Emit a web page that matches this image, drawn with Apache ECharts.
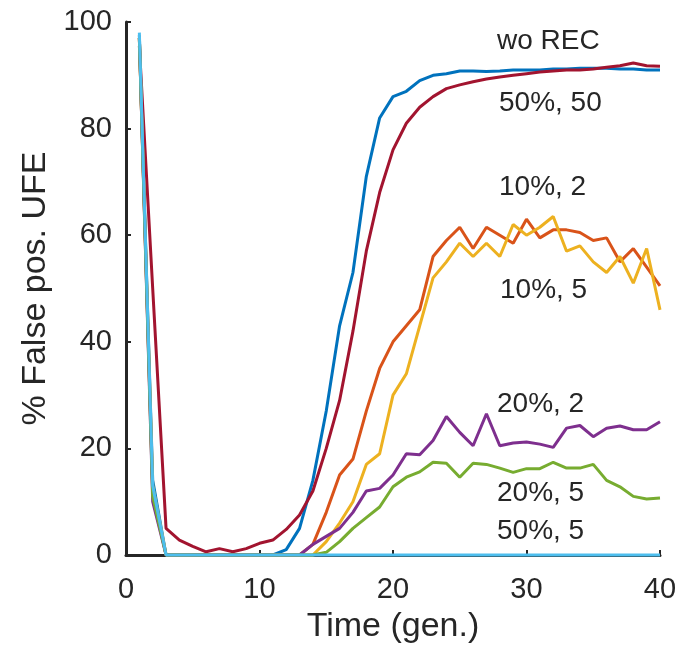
<!DOCTYPE html>
<html>
<head>
<meta charset="utf-8">
<script src="https://cdn.jsdelivr.net/npm/echarts@6/dist/echarts.min.js"></script>
<style>
html,body{margin:0;padding:0;background:#fff;}
#chart{width:681px;height:656px;}
</style>
</head>
<body>
<div id="chart"></div>
<script>
// Generations 1..40
const generations = [1,2,3,4,5,6,7,8,9,10,11,12,13,14,15,16,17,18,19,20,21,22,23,24,25,26,27,28,29,30,31,32,33,34,35,36,37,38,39,40];

const woREC = [97.5,14,0,0,0,0,0,0,0,0,0,1,5,14,27,43,53,71,82,86,87,89,90,90.3,90.8,90.8,90.7,90.8,91,91,91,91.2,91.2,91.3,91.3,91.3,91.2,91.2,91,91];
const rec50_50 = [95.5,50,5,2.8,1.6,0.6,1.2,0.6,1.2,2.2,2.8,4.8,7.5,12,20,29,42,57,68,76,81,84,86,87.5,88.2,88.8,89.3,89.7,90,90.3,90.6,90.8,91,91,91.2,91.5,91.8,92.3,91.8,91.7];
const rec10_2 = [97,12,0,0,0,0,0,0,0,0,0,0,0,2,8,15,18,27,35,40,43,46,56,59,61.5,57.5,61.5,60,58.5,63,59.5,61,61,60.5,59,59.5,55,57.5,54,50.5];
const rec10_5 = [97,13,0,0,0,0,0,0,0,0,0,0,0,0,2.5,6,10,17,19,30,34,43,52,55,58.5,56,58.5,56,62,60,61.5,63.5,57,58,55,53,56,51,57.5,46];
const rec20_2 = [97,10,0,0,0,0,0,0,0,0,0,0,0,2,3.5,5,8,12,12.5,15,19,18.8,21.5,26,23,20.5,26.5,20.5,21,21.2,20.8,20.2,23.8,24.3,22.2,23.8,24.2,23.5,23.5,25];
const rec20_5 = [97,11,0,0,0,0,0,0,0,0,0,0,0,0,0.5,2.5,5,7,9,12.8,14.6,15.6,17.4,17.2,14.6,17.2,17,16.3,15.5,16.2,16.2,17.4,16.3,16.3,17,14,12.8,11,10.5,10.7];
const rec50_5 = [98,13,0,0,0,0,0,0,0,0,0,0,0,0,0,0,0,0,0,0,0,0,0,0,0,0,0,0,0,0,0,0,0,0,0,0,0,0,0,0];

const xTicks = [0,10,20,30,40];
const yTicks = [0,20,40,60,80,100];

const seriesDefs = [
  {name:'wo REC', values:woREC, color:'#0072BD'},
  {name:'50%, 50', values:rec50_50, color:'#A2142F'},
  {name:'10%, 2', values:rec10_2, color:'#D95319'},
  {name:'10%, 5', values:rec10_5, color:'#EDB120'},
  {name:'20%, 2', values:rec20_2, color:'#7E2F8E'},
  {name:'20%, 5', values:rec20_5, color:'#77AC30'},
  {name:'50%, 5', values:rec50_5, color:'#4DBEEE'}
];

const labelPos = {
  'wo REC':[497,42],
  '50%, 50':[499,104],
  '10%, 2':[499,188],
  '10%, 5':[500,291],
  '20%, 2':[497,405],
  '20%, 5':[497,494],
  '50%, 5':[497,532]
};

const FONT = '"Liberation Sans", Arial, Helvetica, sans-serif';
const TXT = '#262626';

const chart = echarts.init(document.getElementById('chart'), null, {renderer:'canvas'});
chart.setOption({
  animation:false,
  backgroundColor:'#fff',
  grid:{left:126, top:22, width:534, height:533, containLabel:false},
  xAxis:{
    type:'value', min:xTicks[0], max:xTicks[xTicks.length-1], interval:10,
    name:'Time (gen.)', nameLocation:'middle', nameGap:55,
    nameTextStyle:{fontFamily:FONT, fontSize:34, color:TXT},
    axisLine:{show:true, lineStyle:{color:TXT, width:3}},
    axisTick:{show:true, inside:true, length:5, lineStyle:{color:TXT, width:2}},
    axisLabel:{fontFamily:FONT, fontSize:29, color:TXT, margin:20},
    splitLine:{show:false}
  },
  yAxis:{
    type:'value', min:yTicks[0], max:yTicks[yTicks.length-1], interval:20,
    name:'% False pos. UFE', nameLocation:'middle', nameGap:73, nameRotate:90,
    nameTextStyle:{fontFamily:FONT, fontSize:34, color:TXT},
    axisLine:{show:true, lineStyle:{color:TXT, width:3}},
    axisTick:{show:true, inside:true, length:5, lineStyle:{color:TXT, width:2}},
    axisLabel:{fontFamily:FONT, fontSize:29, color:TXT, margin:14},
    splitLine:{show:false}
  },
  graphic: seriesDefs.map(s => ({
    type:'text', left:labelPos[s.name][0], top:labelPos[s.name][1]-15, z:100,
    style:{text:s.name, font:'28px ' + FONT, fill:TXT}
  })),
  series: seriesDefs.map((s,i) => ({
    name:s.name, type:'line', showSymbol:false, symbol:'none',
    data: generations.map((g,k) => [g, s.values[k]]),
    lineStyle:{color:s.color, width:3},
    itemStyle:{color:s.color},
    z: 2 + i, clip:false
  }))
});
</script>
</body>
</html>
